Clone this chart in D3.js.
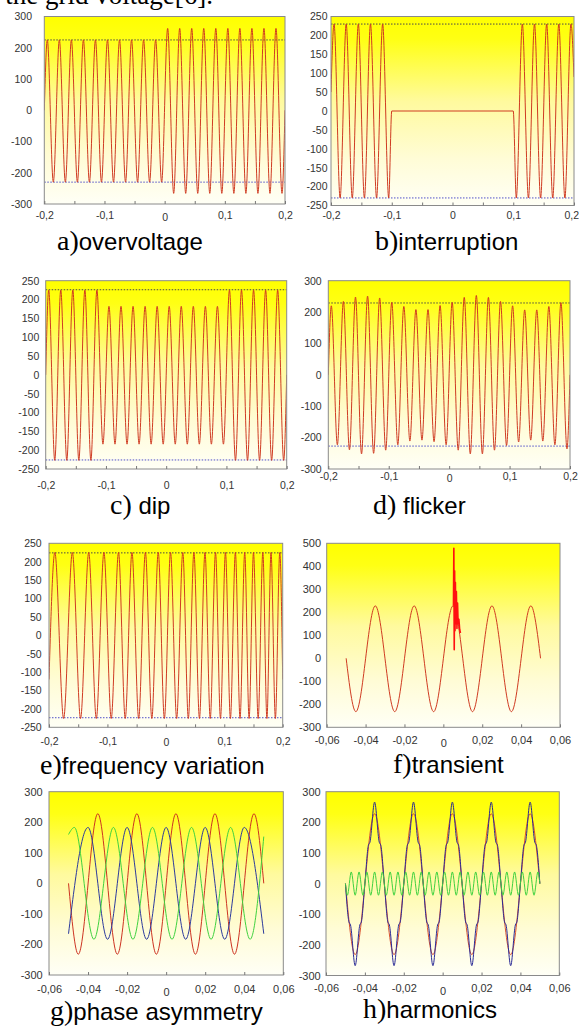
<!DOCTYPE html>
<html>
<head>
<meta charset="utf-8">
<script src="https://cdn.jsdelivr.net/npm/d3@7"></script>
<style>
  body { margin: 0; background: #fff; }
  svg { display: block; }
</style>
</head>
<body>
<div id="fig"></div>
<script>
// ---- data (time in s, voltage in V) ----

// extrema of a 50 Hz wave over -0.2..0.2 s, shared by a), c), d)
var gridT = [-0.2, -0.195, -0.185, -0.175, -0.165, -0.155, -0.145, -0.135, -0.125, -0.115, -0.105,
  -0.095, -0.085, -0.075, -0.065, -0.055, -0.045, -0.035, -0.025, -0.015, -0.005,
  0.005, 0.015, 0.025, 0.035, 0.045, 0.055, 0.065, 0.075, 0.085, 0.095,
  0.105, 0.115, 0.125, 0.135, 0.145, 0.155, 0.165, 0.175, 0.185, 0.195, 0.2];

// a) overvoltage
var overV = [0,
  225, -230, 225, -230, 225, -230, 225, -230, 225, -230,
  225, -230, 225, -230, 225, -230, 225, -230, 225, -230,
  262, -266, 262, -266, 262, -266, 262, -266, 262, -266,
  262, -266, 262, -266, 262, -266, 262, -266, 262, -266, 0];
var overRef = [225, -230];

// b) interruption
var interT = [-0.2, -0.195, -0.185, -0.175, -0.165, -0.155, -0.145, -0.135, -0.125, -0.115, -0.105, -0.1,
  0.1, 0.105, 0.115, 0.125, 0.135, 0.145, 0.155, 0.165, 0.175, 0.185, 0.195, 0.2];
var interV = [50, 230, -230, 230, -230, 230, -230, 230, -230, 230, -230, 0,
  0, -230, 230, -230, 230, -230, 230, -230, 230, -230, 230, 90];
var interRef = [230, -230];

// c) dip
var dipV = [0,
  225, -227, 225, -227, 225, -227, 225, -227, 225, -184,
  182, -184, 182, -184, 182, -184, 182, -184, 182, -184,
  182, -184, 182, -184, 182, -184, 182, -184, 182, -184,
  225, -227, 225, -227, 225, -227, 225, -227, 225, -227, 0];
var dipRef = [226, -226];

// d) flicker
var flickerV = [0,
  220, -223, 234, -239, 248, -252, 251, -250, 245, -240,
  231, -223, 218, -211, 208, -208, 208, -213, 221, -223,
  231, -240, 247, -252, 253, -252, 247, -240, 234, -225,
  220, -214, 207, -208, 207, -211, 218, -223, 230, -236, 0];
var flickerRef = [229, -227];

// e) frequency variation
var freqT = [-0.2, -0.19, -0.175, -0.16, -0.146, -0.132, -0.119, -0.106, -0.0935, -0.081, -0.0695,
  -0.058, -0.0465, -0.035, -0.024, -0.013, -0.0025, 0.008, 0.0185, 0.029, 0.0385,
  0.048, 0.0575, 0.067, 0.076, 0.085, 0.0935, 0.102, 0.1105, 0.119, 0.127,
  0.135, 0.1425, 0.15, 0.158, 0.166, 0.173, 0.18, 0.1875, 0.195, 0.2];
var freqV = [-120, 225, -226, 225, -226, 225, -226, 225, -226, 225, -226,
  225, -226, 225, -226, 225, -226, 225, -226, 225, -226,
  225, -226, 225, -226, 225, -226, 225, -226, 225, -226,
  225, -226, 225, -226, 225, -226, 225, -226, 225, -120];
var freqRef = [224, -224];

// 50 Hz reference wave over -0.05..0.05 s (f, g and h red)
var sineT = [-0.05, -0.045, -0.035, -0.025, -0.015, -0.005, 0.005, 0.015, 0.025, 0.035, 0.045, 0.05];
var sineV = [0, -232, 228, -232, 228, -232, 228, -232, 228, -232, 228, 0];

// f) transient spike
var spikeT = [0.0052, 0.0054, 0.0056, 0.0058, 0.006, 0.0062, 0.0064, 0.0067, 0.007, 0.0073, 0.0076, 0.008, 0.0084, 0.0088];
var spikeV = [228, 478, 37, 380, 120, 330, 150, 290, 130, 240, 150, 170, 125, 110];

// g) phase asymmetry
var phaseBT = [-0.05, -0.04, -0.03, -0.02, -0.01, 0, 0.01, 0.02, 0.03, 0.04, 0.05];
var phaseBV = [-165, 183, -183, 183, -183, 183, -183, 183, -183, 183, -165];
var phaseGT = [-0.05, -0.047, -0.037, -0.027, -0.017, -0.007, 0.003, 0.013, 0.023, 0.033, 0.043, 0.05];
var phaseGV = [160, 183, -183, 183, -183, 183, -183, 183, -183, 183, -183, 153];

// h) harmonics: distorted wave (blue) and 5th harmonic (green)
var harmBT = [-0.05, -0.0482, -0.0474, -0.045, -0.0426, -0.0418, -0.04,
  -0.0382, -0.0374, -0.035, -0.0326, -0.0318, -0.03,
  -0.0282, -0.0274, -0.025, -0.0226, -0.0218, -0.02,
  -0.0182, -0.0174, -0.015, -0.0126, -0.0118, -0.01,
  -0.0082, -0.0074, -0.005, -0.0026, -0.0018, 0,
  0.0018, 0.0026, 0.005, 0.0074, 0.0082, 0.01,
  0.0118, 0.0126, 0.015, 0.0174, 0.0182, 0.02,
  0.0218, 0.0226, 0.025, 0.0274, 0.0282, 0.03,
  0.0318, 0.0326, 0.035, 0.0374, 0.0382, 0.04,
  0.0418, 0.0426, 0.045, 0.0474, 0.0482, 0.05];
var harmBV = [0, -125, -135, -268, -135, -125, 0,
  125, 135, 266, 135, 125, 0,
  -125, -135, -268, -135, -125, 0,
  125, 135, 266, 135, 125, 0,
  -125, -135, -268, -135, -125, 0,
  125, 135, 266, 135, 125, 0,
  -125, -135, -268, -135, -125, 0,
  125, 135, 266, 135, 125, 0,
  -125, -135, -268, -135, -125, 0,
  125, 135, 266, 135, 125, 0];
var harmGT = [-0.05, -0.049, -0.047, -0.045, -0.043, -0.041, -0.039, -0.037, -0.035, -0.033, -0.031,
  -0.029, -0.027, -0.025, -0.023, -0.021, -0.019, -0.017, -0.015, -0.013, -0.011,
  -0.009, -0.007, -0.005, -0.003, -0.001, 0.001, 0.003, 0.005, 0.007, 0.009,
  0.011, 0.013, 0.015, 0.017, 0.019, 0.021, 0.023, 0.025, 0.027, 0.029,
  0.031, 0.033, 0.035, 0.037, 0.039, 0.041, 0.043, 0.045, 0.047, 0.049, 0.05];
var harmGV = [0, -38, 38, -38, 38, -38, 38, -38, 38, -38, 38,
  -38, 38, -38, 38, -38, 38, -38, 38, -38, 38,
  -38, 38, -38, 38, -38, 38, -38, 38, -38, 38,
  -38, 38, -38, 38, -38, 38, -38, 38, -38, 38,
  -38, 38, -38, 38, -38, 38, -38, 38, -38, 38, 0];

// tick values
var xTicksLong = [-0.2, -0.15, -0.1, -0.05, 0, 0.05, 0.1, 0.15, 0.2];
var xTicksShort = [-0.06, -0.04, -0.02, 0, 0.02, 0.04, 0.06];
var yTicks300 = [-300, -200, -100, 0, 100, 200, 300];
var yTicks250 = [-250, -200, -150, -100, -50, 0, 50, 100, 150, 200, 250];
var yTicks500 = [-300, -200, -100, 0, 100, 200, 300, 400, 500];

// ---- drawing ----
var svg = d3.select("#fig").append("svg")
    .attr("width", 579)
    .attr("height", 1027);

var defs = svg.append("defs");
var grad = defs.append("linearGradient")
    .attr("id", "bg")
    .attr("x1", 0).attr("y1", 0).attr("x2", 0).attr("y2", 1);
[["0%", "#ffff00"], ["12%", "#ffff14"], ["45%", "#fffa9e"], ["75%", "#fffcd6"], ["100%", "#fffff6"]]
    .forEach(function(s) {
        grad.append("stop").attr("offset", s[0]).attr("stop-color", s[1]);
    });

var loc = d3.formatLocale({ decimal: ",", thousands: ".", grouping: [3], currency: ["", ""], minus: "-" });
var fmtX = loc.format("~g");
var fmtY = loc.format("d");

var RED = "#cf3b22";
var SANS = "'Liberation Sans', Arial, sans-serif";
var SERIF = "'Liberation Serif', 'Times New Roman', serif";

// cut-off line of body text above the figure
svg.append("text")
    .attr("x", 213)
    .attr("y", 4)
    .attr("text-anchor", "end")
    .attr("font-family", SERIF)
    .attr("font-size", 27)
    .attr("fill", "#000")
    .text("the grid voltage[6].");

function series(t, v, color, width, curve) {
    return { t: t, v: v, color: color, width: width || 1, curve: curve || d3.curveMonotoneX };
}

var panels = [
    { id: "a", left: 44.3, right: 285, top: 16.5, bottom: 204, xDomain: [-0.2, 0.2], yDomain: [-300, 300],
      xTicks: xTicksLong, labelEvery: 0.1, yTicks: yTicks300, yGap: 12.3, xPad: 8, fs: 10.5, zeroShift: 1.5,
      refs: overRef, series: [series(gridT, overV, RED)],
      cap: ["a)", "overvoltage"], capX: 57, capY: 250 },
    { id: "b", left: 331, right: 574, top: 16.5, bottom: 205.5, xDomain: [-0.2, 0.2], yDomain: [-250, 250],
      xTicks: xTicksLong, labelEvery: 0.1, yTicks: yTicks250, yGap: 3.5, xPad: 6.5, fs: 10.5, zeroShift: 0,
      lastEnd: 578.5,
      refs: interRef, series: [series(interT, interV, RED)],
      cap: ["b)", "interruption"], capX: 375, capY: 250 },
    { id: "c", left: 45.7, right: 286.7, top: 280.7, bottom: 469, xDomain: [-0.2, 0.2], yDomain: [-250, 250],
      xTicks: xTicksLong, labelEvery: 0.1, yTicks: yTicks250, yGap: 6.4, xPad: 12.5, fs: 10.5, zeroShift: 0,
      refs: dipRef, series: [series(gridT, dipV, RED)],
      cap: ["c)", " dip"], capX: 110, capY: 514 },
    { id: "d", left: 328.3, right: 570, top: 280.7, bottom: 469, xDomain: [-0.2, 0.2], yDomain: [-300, 300],
      xTicks: xTicksLong, labelEvery: 0.1, yTicks: yTicks300, yGap: 6.6, xPad: 3.3, fs: 10.5, zeroShift: 2,
      refs: flickerRef, series: [series(gridT, flickerV, RED)],
      cap: ["d)", " flicker"], capX: 373, capY: 514 },
    { id: "e", left: 49, right: 282.7, top: 543.3, bottom: 727.3, xDomain: [-0.2, 0.2], yDomain: [-250, 250],
      xTicks: xTicksLong, labelEvery: 0.1, yTicks: yTicks250, yGap: 7.3, xPad: 10.6, fs: 10.5, zeroShift: 1,
      refs: freqRef, series: [series(freqT, freqV, RED)],
      cap: ["e)", "frequency variation"], capX: 40, capY: 774 },
    { id: "f", left: 326.7, right: 560, top: 543.3, bottom: 727.3, xDomain: [-0.06, 0.06], yDomain: [-300, 500],
      xTicks: xTicksShort, labelEvery: 0.02, yTicks: yTicks500, yGap: 5.7, xPad: 8.9, fs: 11, zeroShift: 3,
      refs: null, series: [series(sineT, sineV, RED), series(spikeT, spikeV, "#ff1010", 1.6, d3.curveLinear)],
      cap: ["f)", "transient"], capX: 393, capY: 773 },
    { id: "g", left: 49, right: 283.3, top: 791.7, bottom: 975, xDomain: [-0.06, 0.06], yDomain: [-300, 300],
      xTicks: xTicksShort, labelEvery: 0.02, yTicks: yTicks300, yGap: 6.3, xPad: 10.2, fs: 11, zeroShift: 3,
      refs: null, series: [series(sineT, sineV, "#cc3322"), series(phaseBT, phaseBV, "#2c3a9c"), series(phaseGT, phaseGV, "#3fd13f")],
      cap: ["g)", "phase asymmetry"], capX: 50, capY: 1020 },
    { id: "h", left: 326, right: 559.3, top: 791.7, bottom: 975.5, xDomain: [-0.06, 0.06], yDomain: [-300, 300],
      xTicks: xTicksShort, labelEvery: 0.02, yTicks: yTicks300, yGap: 5.3, xPad: 9, fs: 11, zeroShift: 3,
      refs: null, series: [series(sineT, sineV, "#d8502e"), series(harmBT, harmBV, "#2a2a96"), series(harmGT, harmGV, "#3fd13f")],
      cap: ["h)", "harmonics"], capX: 363, capY: 1018 }
];

panels.forEach(drawPanel);

function drawPanel(p) {
    var x = d3.scaleLinear().domain(p.xDomain).range([p.left, p.right]);
    var y = d3.scaleLinear().domain(p.yDomain).range([p.bottom, p.top]);
    var g = svg.append("g").attr("class", "panel-" + p.id);

    g.append("rect")
        .attr("x", p.left).attr("y", p.top)
        .attr("width", p.right - p.left).attr("height", p.bottom - p.top)
        .attr("fill", "url(#bg)");

    defs.append("clipPath").attr("id", "clip-" + p.id)
        .append("rect")
        .attr("x", p.left).attr("y", p.top)
        .attr("width", p.right - p.left).attr("height", p.bottom - p.top);

    var plot = g.append("g").attr("clip-path", "url(#clip-" + p.id + ")");

    // dotted nominal levels
    if (p.refs) {
        var refLine = d3.line().x(function(d) { return x(d[0]); }).y(function(d) { return y(d[1]); });
        p.refs.forEach(function(v, i) {
            plot.append("path")
                .attr("d", refLine([[p.xDomain[0], v], [p.xDomain[1], v]]))
                .attr("fill", "none")
                .attr("stroke", i === 0 ? "#4a4a4a" : "#5050c8")
                .attr("stroke-width", 1)
                .attr("stroke-dasharray", "1.5,1.5");
        });
    }

    p.series.forEach(function(s) {
        var pts = s.t.map(function(t, i) { return [t, s.v[i]]; });
        var line = d3.line()
            .x(function(d) { return x(d[0]); })
            .y(function(d) { return y(d[1]); })
            .curve(s.curve);
        plot.append("path")
            .attr("d", line(pts))
            .attr("fill", "none")
            .attr("stroke", s.color)
            .attr("stroke-width", s.width)
            .attr("stroke-linejoin", "round");
    });

    g.append("rect")
        .attr("x", p.left).attr("y", p.top)
        .attr("width", p.right - p.left).attr("height", p.bottom - p.top)
        .attr("fill", "none")
        .attr("stroke", "#8a8a8a")
        .attr("stroke-width", 1);

    var xAxis = d3.axisBottom(x)
        .tickValues(p.xTicks)
        .tickFormat(function(d) {
            var k = d / p.labelEvery;
            return Math.abs(k - Math.round(k)) < 1e-6 ? fmtX(d) : "";
        })
        .tickSizeInner(-3)
        .tickSizeOuter(0)
        .tickPadding(p.xPad);

    var gx = g.append("g")
        .attr("transform", "translate(0," + p.bottom + ")")
        .call(xAxis);
    gx.select(".domain").remove();
    gx.selectAll(".tick line").attr("stroke", "#777");
    gx.selectAll(".tick text")
        .attr("fill", "#333")
        .attr("font-family", SANS)
        .attr("font-size", p.fs)
        .attr("dy", function(d) { return d === 0 ? (0.71 * p.fs + p.zeroShift) + "px" : "0.71em"; });

    // keep the right-most label inside the page where it would spill over
    if (p.lastEnd) {
        var last = p.xTicks[p.xTicks.length - 1];
        gx.selectAll(".tick text")
            .filter(function(d) { return d === last; })
            .attr("text-anchor", "end")
            .attr("x", p.lastEnd - x(last));
    }

    var yAxis = d3.axisLeft(y)
        .tickValues(p.yTicks)
        .tickFormat(fmtY)
        .tickSize(0)
        .tickPadding(p.yGap);

    var gy = g.append("g")
        .attr("transform", "translate(" + p.left + ",0)")
        .call(yAxis);
    gy.select(".domain").remove();
    gy.selectAll(".tick text")
        .attr("fill", "#333")
        .attr("font-family", SANS)
        .attr("font-size", p.fs);

    var cap = g.append("text")
        .attr("x", p.capX)
        .attr("y", p.capY)
        .attr("fill", "#000");
    cap.append("tspan")
        .attr("font-family", SERIF)
        .attr("font-size", 28)
        .text(p.cap[0]);
    cap.append("tspan")
        .attr("font-family", SANS)
        .attr("font-size", 24)
        .text(p.cap[1]);
}
</script>
</body>
</html>
